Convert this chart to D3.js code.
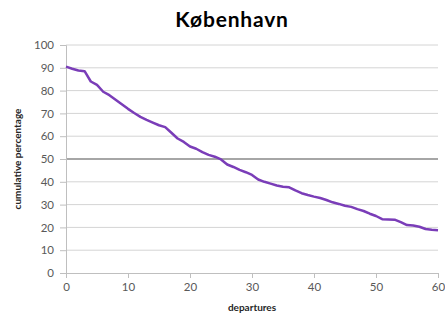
<!DOCTYPE html>
<html>
<head>
<meta charset="utf-8">
<script src="https://cdn.jsdelivr.net/npm/d3@7"></script>
<style>
  body { margin: 0; background: #fff; }
  text { font-family: Lato, "Open Sans", sans-serif; }
</style>
</head>
<body>
<svg></svg>
<script>
// Canvas size
const width = 445, height = 323;
const svg = d3.select("svg").attr("width", width).attr("height", height);

// Data
const departures = d3.range(0, 61);
const cumulative = [
  90.5, 89.6, 88.8, 88.5, 84, 82.5, 79.5, 78, 76, 74,
  72, 70.2, 68.5, 67.2, 66, 64.8, 64, 61.5, 59, 57.5,
  55.5, 54.5, 53, 51.8, 51, 49.8, 47.6, 46.5, 45.2, 44.2,
  43, 41, 40, 39.2, 38.4, 37.8, 37.6, 36.2, 35, 34.2,
  33.5, 32.9, 32, 31, 30.3, 29.5, 29, 28, 27.2, 26,
  25, 23.6, 23.5, 23.4, 22.3, 21, 20.8, 20.3, 19.3, 19, 18.8
];
const yTicks = [0, 10, 20, 30, 40, 50, 60, 70, 80, 90, 100];
const xTicks = [0, 10, 20, 30, 40, 50, 60];
const threshold = 50;

const margin = { top: 45, right: 7, bottom: 50, left: 66 };
const x = d3.scaleLinear().domain([0, 60]).range([margin.left, width - margin.right]);
const y = d3.scaleLinear().domain([0, 100]).range([height - margin.bottom, margin.top]);

// Gridlines
svg.append("g")
  .selectAll("line")
  .data(yTicks.filter(d => d > 0 && d !== threshold))
  .enter().append("line")
  .attr("x1", x(0)).attr("x2", x(60))
  .attr("y1", d => y(d)).attr("y2", d => y(d))
  .attr("stroke", "#d4d4d4").attr("stroke-width", 1);

// 50% reference line
svg.append("line")
  .attr("x1", x(0)).attr("x2", x(60))
  .attr("y1", y(threshold)).attr("y2", y(threshold))
  .attr("stroke", "#a6a6a6").attr("stroke-width", 2);

// Axes
const yAxis = svg.append("g")
  .attr("transform", `translate(${x(0)},0)`)
  .call(d3.axisLeft(y).tickValues(yTicks).tickSize(6).tickPadding(6));
const xAxis = svg.append("g")
  .attr("transform", `translate(0,${y(0)})`)
  .call(d3.axisBottom(x).tickValues(xTicks).tickSize(5).tickPadding(5));

[yAxis, xAxis].forEach(g => {
  g.select(".domain").attr("stroke", "#bfbfbf");
  g.selectAll(".tick line").attr("stroke", "#bfbfbf");
  g.selectAll(".tick text")
    .attr("fill", "#595959")
    .style("font-size", "11.5px")
    .style("font-family", "Lato, 'Open Sans', sans-serif");
});

// Data line
const line = d3.line()
  .x((d, i) => x(departures[i]))
  .y(d => y(d));

svg.append("path")
  .datum(cumulative)
  .attr("fill", "none")
  .attr("stroke", "#7a3db8")
  .attr("stroke-width", 2.5)
  .attr("stroke-linejoin", "round")
  .attr("d", line);

// Titles
svg.append("text")
  .attr("x", 232).attr("y", 27)
  .attr("text-anchor", "middle")
  .style("font-size", "21px").style("font-weight", "bold")
  .style("letter-spacing", "0.8px")
  .attr("fill", "#000")
  .text("København");

svg.append("text")
  .attr("x", (x(0) + x(60)) / 2).attr("y", 311)
  .attr("text-anchor", "middle")
  .style("font-size", "10px").style("font-weight", "bold")
  .attr("fill", "#262626")
  .text("departures");

svg.append("text")
  .attr("transform", `translate(21,${y(50)}) rotate(-90)`)
  .attr("text-anchor", "middle")
  .style("font-size", "10px").style("font-weight", "bold")
  .attr("fill", "#262626")
  .text("cumulative percentage");
</script>
</body>
</html>
